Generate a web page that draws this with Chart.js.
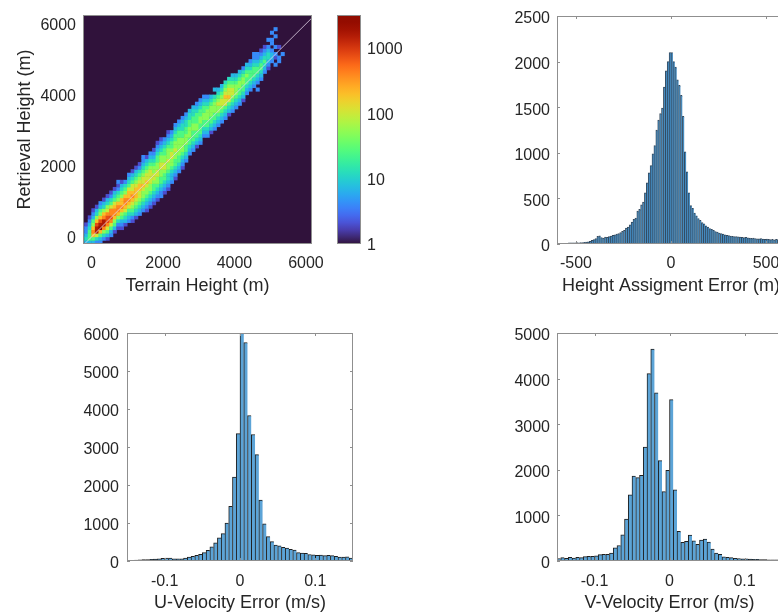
<!DOCTYPE html>
<html>
<head>
<meta charset="utf-8">
<title>Height and velocity retrieval errors</title>
<script src="https://cdn.jsdelivr.net/npm/chart.js@4.4.1/dist/chart.umd.min.js"></script>
<style>
  html, body { margin: 0; padding: 0; background: #ffffff; }
  body { position: relative; width: 778px; height: 614px; overflow: hidden; }
  canvas { position: absolute; }
</style>
</head>
<body>
<canvas id="heat" width="342" height="300" style="left:0px;top:0px"></canvas>
<canvas id="cbar" width="81" height="300" style="left:330px;top:0px"></canvas>
<canvas id="hgt" width="325" height="300" style="left:490px;top:0px"></canvas>
<canvas id="uvel" width="343" height="304" style="left:40px;top:310px"></canvas>
<canvas id="vvel" width="322" height="304" style="left:490px;top:310px"></canvas>
<script>
// ---------- data ----------

// 2D histogram, terrain height vs retrieval height (100 m cells)
const heatXRange = [-240, 6170];
const heatYRange = [-200, 6250];
const heatTicks = [0, 2000, 4000, 6000];
const heatCell = 100;
const heatColStart = -200;        // lower edge of the first terrain-height column
const heatRowOffsetStart = -800;  // first cell of each column is 800 m below the 1:1 line
// count read from each cell's colour, one code per cell
const heatLevelCounts = { '.': 0, '1': 1, '2': 2, '3': 4, '4': 7, '5': 12, '6': 25, '7': 50, '8': 100, '9': 200, 'a': 400, 'b': 800, 'c': 1600, 'd': 3000 };
const heatColumns = [
  '........454332...', '.......46665432..', '......469a976432.', '.....358ccb97542.',
  '....3469dcb97643.', '....357acca97542.', '...2468abba87542.', '...3468abaa86532.',
  '...24679aa986542.', '...23579aa9765323', '..234679a9976542.', '..245689aa97653..',
  '..345689a9986543.', '.2356789a9886542.', '.245678999876542.', '.345678899876532.',
  '.3456778988765433', '2345677898876542.', '2345677888876543.', '2345667887765432.',
  '23456778877665432', '33456677887765432', '2345667887766543.', '23455677877765432',
  '.344567788766543.', '.2345667787766543', '..345667777766543', '..234567777665543',
  '...34566777665543', '....3456677766554', '....3456667766554', '....2456677666543',
  '....3456667766543', '.....345667766543', '....345667776543.', '....24566777654..',
  '....3456677765.4.', '....34567787654..', '....34567887654..', '....34568898765..',
  '....24568988765..', '....34567887654..', '....3456777654...', '....3456677654...',
  '....2456677653...', '.....345667654...', '.....345666543...', '.....3456665433..',
  '...3.345665433...', '.....345665432...', '......34565432...', '......2345543.3..',
  '.......3443.33.3.', '.....3.23.3..3.3.', '.....33..2.......', '......3..........'
];
const oneToOne = [-300, 6300];
const cbarRange = [1, 3200];
const cbarTicks = [1, 10, 100, 1000];

// height assignment error histogram (10 m bins from -600 m)
const hgtStart = -600;
const hgtBin = 10;
const hgtCounts = [
  0, 0, 0, 0, 0, 8, 12, 12, 14, 13,
  15, 14, 16, 15, 18, 20, 25, 30, 40, 48,
  60, 85, 90, 70, 65, 75, 72, 80, 88, 95,
  100, 108, 115, 125, 140, 150, 175, 185, 210, 240,
  270, 285, 360, 380, 430, 460, 560, 670, 780, 860,
  990, 1080, 1250, 1360, 1430, 1490, 1720, 1900, 2000, 2100,
  2100, 2000, 1940, 1800, 1740, 1630, 1400, 1010, 790, 560,
  420, 390, 340, 310, 280, 260, 235, 220, 200, 185,
  170, 160, 150, 135, 130, 120, 115, 110, 100, 95,
  92, 88, 85, 80, 82, 78, 75, 72, 70, 74,
  68, 65, 62, 66, 60, 58, 56, 60, 55, 52,
  55, 50, 48, 52, 45, 50, 48, 44, 46, 42
];
const hgtXTicks = [-500, 0, 500];
const hgtYTicks = [0, 500, 1000, 1500, 2000, 2500];

// velocity error histograms (0.005 m/s bins from -0.15 m/s)
const velStart = -0.15;
const velBin = 0.005;
const uCounts = [
  15, 20, 25, 30, 35, 40, 45, 50, 55, 70,
  75, 75, 60, 55, 60, 80, 100, 120, 150, 175,
  220, 280, 370, 480, 610, 720, 1000, 1440, 2210, 3350,
  6000, 5750, 3830, 3330, 2800, 1600, 980, 640, 510, 420,
  400, 360, 340, 310, 290, 220, 210, 200, 170, 160,
  150, 155, 140, 150, 140, 120, 105, 105, 110, 80
];
const vCounts = [
  55, 75, 60, 80, 65, 80, 75, 95, 100, 100,
  115, 140, 145, 145, 175, 290, 340, 575, 920, 1450,
  1860, 1830, 1880, 2500, 4110, 4650, 3690, 2200, 1520, 1990,
  3540, 1560, 650, 410, 430, 570, 440, 365, 460, 480,
  415, 260, 175, 145, 90, 80, 75, 60, 55, 50,
  45, 40, 35, 35, 30, 30, 28, 25, 25, 22
];
const velXTicks = [-0.1, 0, 0.1];
const uYTicks = [0, 1000, 2000, 3000, 4000, 5000, 6000];
const vYTicks = [0, 1000, 2000, 3000, 4000, 5000];

// ---------- look ----------
const TEXT = '#262626';
const FRAME = '#8f8f8f';
const BAR_FILL = 'rgb(92,164,215)';
const BAR_EDGE = '#1e1e1e';
const PLOT_BG = 'rgb(48,18,59)';

Chart.defaults.font.family = "'Liberation Sans', Arial, Helvetica, sans-serif";
Chart.defaults.font.size = 16;
Chart.defaults.color = TEXT;

// turbo colormap (polynomial fit, low end pinned to the dark purple)
function turboRGB(t) {
  t = Math.min(1, Math.max(0, t));
  const poly = u => [
    0.13572138 + u * (4.61539260 + u * (-42.66032258 + u * (132.13108234 + u * (-152.94239396 + u * 59.28637943)))),
    0.09140261 + u * (2.19418839 + u * (4.84296658 + u * (-14.18503333 + u * (4.27729857 + u * 2.82956604)))),
    0.10667330 + u * (12.64194608 + u * (-60.58204836 + u * (110.36276771 + u * (-89.90310912 + u * 27.34824973))))
  ].map(v => 255 * Math.min(1, Math.max(0, v)));
  if (t < 0.04) {
    const lo = [48, 18, 59], hi = poly(0.04), k = t / 0.04;
    return lo.map((v, i) => v + (hi[i] - v) * k);
  }
  return poly(t);
}
function turboCss(t) {
  const c = turboRGB(t).map(Math.round);
  return 'rgb(' + c[0] + ',' + c[1] + ',' + c[2] + ')';
}
function countToT(n) {
  return Math.log10(n) / Math.log10(cbarRange[1]);
}

// box + inward tick marks, MATLAB style
const framePlugin = {
  id: 'frame',
  afterDatasetsDraw(chart, args, opts) {
    const { ctx, chartArea: a, scales } = chart;
    ctx.save();
    ctx.strokeStyle = FRAME;
    ctx.lineWidth = 1;
    ctx.strokeRect(a.left + 0.5, a.top + 0.5, a.right - a.left - 1, a.bottom - a.top - 1);
    if (opts.tickLen) {
      const L = opts.tickLen;
      ctx.beginPath();
      scales.x.ticks.forEach(t => {
        const px = Math.round(scales.x.getPixelForValue(t.value)) + 0.5;
        ctx.moveTo(px, a.bottom); ctx.lineTo(px, a.bottom - L);
        ctx.moveTo(px, a.top); ctx.lineTo(px, a.top + L);
      });
      scales.y.ticks.forEach(t => {
        const py = Math.round(scales.y.getPixelForValue(t.value)) + 0.5;
        ctx.moveTo(a.left, py); ctx.lineTo(a.left + L, py);
        ctx.moveTo(a.right, py); ctx.lineTo(a.right - L, py);
      });
      ctx.stroke();
    }
    ctx.restore();
  }
};

const plotBgPlugin = {
  id: 'plotBg',
  beforeDatasetsDraw(chart, args, opts) {
    if (!opts.color) return;
    const { ctx, chartArea: a } = chart;
    ctx.save();
    ctx.fillStyle = opts.color;
    ctx.fillRect(a.left, a.top, a.right - a.left, a.bottom - a.top);
    ctx.restore();
  }
};

// axis with fixed size so the plot boxes land where they should
function axis(o) {
  return {
    type: o.type || 'linear',
    position: o.position,
    min: o.min,
    max: o.max,
    offset: false,
    grid: { display: false, drawTicks: false },
    border: { display: false },
    ticks: { padding: o.pad, labelOffset: o.shift || 0, color: TEXT, font: { size: 16 },
             autoSkip: false, maxRotation: 0, callback: v => String(v) },
    title: o.title
      ? { display: true, text: o.title, color: TEXT, font: { size: 18 }, padding: o.titlePad }
      : { display: false },
    afterBuildTicks: s => { s.ticks = o.ticks.map(v => ({ value: v })); },
    afterFit: s => {
      if (s.isHorizontal()) s.height = o.size; else s.width = o.size;
      s.paddingLeft = s.paddingRight = s.paddingTop = s.paddingBottom = 0;
    }
  };
}

// ---------- 2D histogram ----------
const heatPoints = [];
heatColumns.forEach((col, i) => {
  const x0 = heatColStart + i * heatCell;
  for (let j = 0; j < col.length; j++) {
    const n = heatLevelCounts[col[j]];
    if (!n) continue;
    heatPoints.push({ x: x0 + heatCell / 2, y: x0 + heatRowOffsetStart + j * heatCell + heatCell / 2, n: n });
  }
});

function cellRadius(chart) {
  const s = chart.scales.x;
  const w = Math.abs(s.getPixelForValue(heatCell) - s.getPixelForValue(0));
  return (w + 0.5) / Math.SQRT2;
}

new Chart(document.getElementById('heat'), {
  type: 'scatter',
  data: {
    datasets: [
      {
        data: heatPoints,
        pointStyle: 'rect',
        pointRadius: c => cellRadius(c.chart),
        pointHoverRadius: c => cellRadius(c.chart),
        pointBorderWidth: 0,
        pointBackgroundColor: c => (c.raw ? turboCss(countToT(c.raw.n)) : PLOT_BG),
        order: 2
      },
      {
        type: 'line',
        data: oneToOne.map(v => ({ x: v, y: v })),
        borderColor: 'rgba(226,214,232,0.8)',
        borderWidth: 1,
        pointRadius: 0,
        order: 1
      }
    ]
  },
  options: {
    responsive: false,
    animation: false,
    events: [],
    layout: { padding: { top: 15, right: 30, left: 0, bottom: 0 } },
    plugins: { legend: { display: false }, tooltip: { enabled: false }, plotBg: { color: PLOT_BG }, frame: {} },
    scales: {
      x: axis({ min: heatXRange[0], max: heatXRange[1], ticks: heatTicks, size: 56, pad: 10,
                title: 'Terrain Height (m)', titlePad: { top: 0, bottom: 3 } }),
      y: axis({ min: heatYRange[0], max: heatYRange[1], ticks: heatTicks, size: 83, pad: 7, shift: 2,
                title: 'Retrieval Height (m)', titlePad: { top: 14, bottom: 0 } })
    }
  },
  plugins: [plotBgPlugin, framePlugin]
});

// ---------- colour bar ----------
new Chart(document.getElementById('cbar'), {
  type: 'bar',
  data: {
    labels: [''],
    datasets: [{
      data: [cbarRange],
      barPercentage: 1,
      categoryPercentage: 1,
      borderWidth: 0,
      backgroundColor: c => {
        const a = c.chart.chartArea;
        if (!a) return turboCss(0.5);
        const g = c.chart.ctx.createLinearGradient(0, a.bottom, 0, a.top);
        for (let k = 0; k <= 32; k++) g.addColorStop(k / 32, turboCss(k / 32));
        return g;
      }
    }]
  },
  options: {
    responsive: false,
    animation: false,
    events: [],
    layout: { padding: { top: 15, right: 0, left: 7, bottom: 56 } },
    plugins: { legend: { display: false }, tooltip: { enabled: false }, frame: {} },
    scales: {
      x: { display: false },
      y: axis({ type: 'logarithmic', position: 'right', min: cbarRange[0], max: cbarRange[1],
                ticks: cbarTicks, size: 50, pad: 6, shift: 2 })
    }
  },
  plugins: [framePlugin]
});

// ---------- histograms ----------
function histogram(id, o) {
  const data = o.counts.map((n, i) => ({ x: o.start + (i + 0.5) * o.bin, y: n }));
  return new Chart(document.getElementById(id), {
    type: 'bar',
    data: {
      datasets: [{
        data: data,
        backgroundColor: o.fill || BAR_FILL,
        borderColor: o.edge || BAR_EDGE,
        borderWidth: { left: 1, top: 1, right: 0, bottom: 0 },
        borderSkipped: false,
        barPercentage: 1,
        categoryPercentage: 1
      }]
    },
    options: {
      responsive: false,
      animation: false,
      events: [],
      layout: { padding: { top: o.top, right: 30, left: 0, bottom: 0 } },
      plugins: { legend: { display: false }, tooltip: { enabled: false }, frame: { tickLen: 3 } },
      scales: {
        x: axis({ min: o.xRange[0], max: o.xRange[1], ticks: o.xTicks, size: o.xSize, pad: o.xPad,
                  title: o.title, titlePad: { top: 0, bottom: o.titlePad } }),
        y: axis({ min: 0, max: o.yMax, ticks: o.yTicks, size: o.ySize, pad: o.yPad, shift: 3 })
      }
    },
    plugins: [framePlugin]
  });
}

histogram('hgt', {
  counts: hgtCounts, start: hgtStart, bin: hgtBin, xRange: [-600, 600], xTicks: hgtXTicks,
  yMax: 2500, yTicks: hgtYTicks, top: 16, xSize: 56, ySize: 67, xPad: 10, yPad: 7,
  title: 'Height Assigment Error (m)', titlePad: 3,
  fill: 'rgb(70,140,192)', edge: 'rgba(18,42,66,0.85)'
});
histogram('uvel', {
  counts: uCounts, start: velStart, bin: velBin, xRange: [-0.15, 0.15], xTicks: velXTicks,
  yMax: 6000, yTicks: uYTicks, top: 23, xSize: 53, ySize: 87, xPad: 11, yPad: 8,
  title: 'U-Velocity Error (m/s)', titlePad: 0
});
histogram('vvel', {
  counts: vCounts, start: velStart, bin: velBin, xRange: [-0.15, 0.15], xTicks: velXTicks,
  yMax: 5000, yTicks: vYTicks, top: 23, xSize: 53, ySize: 67, xPad: 11, yPad: 7,
  title: 'V-Velocity Error (m/s)', titlePad: 0
});
</script>
</body>
</html>
